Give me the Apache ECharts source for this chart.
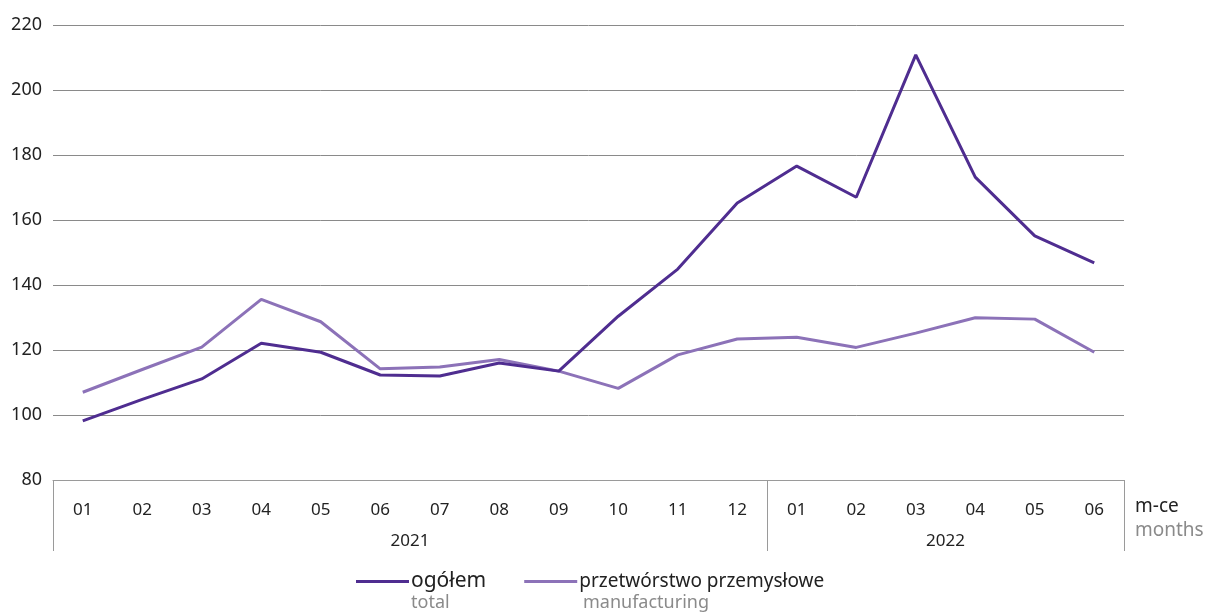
<!DOCTYPE html>
<html>
<head>
<meta charset="utf-8">
<script src="https://cdn.jsdelivr.net/npm/echarts@6/dist/echarts.min.js"></script>
<style>
  html, body { margin: 0; padding: 0; background: #fff; }
  #chart { width: 1206px; height: 614px; }
</style>
</head>
<body>
<div id="chart"></div>
<script>
// miesiące 2021-01 .. 2022-06
const months = ['01', '02', '03', '04', '05', '06', '07', '08', '09', '10', '11', '12',
                '01', '02', '03', '04', '05', '06'];
const years = ['2021', '2022'];
const yearMid = [6, 15];       // środek grupy (w jednostkach kategorii)
const yearBounds = [0, 12, 18]; // granice lat

const totalValues = [98.2, 104.8, 111.1, 122.1, 119.3, 112.3, 112.0, 116.0, 113.5, 130.4,
                     144.9, 165.2, 176.6, 167.0, 210.8, 173.2, 155.1, 146.8];
const manufValues = [107.0, 114.0, 120.9, 135.6, 128.7, 114.2, 114.8, 117.1, 113.5, 108.2,
                     118.5, 123.4, 123.9, 120.8, 125.2, 129.9, 129.5, 119.3];

const font = '"Noto Sans", "Open Sans", sans-serif';
const darkPurple = '#4f2d90';
const lightPurple = '#8c72b8';

const myChart = echarts.init(document.getElementById('chart'));

const option = {
  animation: false,
  textStyle: { fontFamily: font },
  grid: { left: 53, right: 82, top: 25, bottom: 134, containLabel: false },
  legend: {
    left: 351,
    top: 566,
    itemWidth: 53,
    itemHeight: 3,
    itemGap: 38,
    icon: 'rect',
    textStyle: { fontSize: 19, color: '#222', fontFamily: font, padding: [0, 0, 0, -3] },
    data: [
      { name: 'ogółem', textStyle: { fontSize: 21 } },
      { name: 'przetwórstwo przemysłowe' }
    ]
  },
  xAxis: [
    {
      type: 'category',
      data: months,
      boundaryGap: true,
      position: 'bottom',
      axisLine: { show: true, lineStyle: { color: '#9a9a9a', width: 1 } },
      axisTick: { show: false },
      axisLabel: { color: '#222', fontSize: 17, margin: 22, fontFamily: font }
    },
    {
      type: 'value',
      min: 0,
      max: 18,
      position: 'bottom',
      axisLine: { show: false },
      splitLine: { show: false },
      axisTick: {
        show: true,
        customValues: yearBounds,
        length: 71,
        lineStyle: { color: '#9a9a9a', width: 1 }
      },
      axisLabel: {
        customValues: yearMid,
        formatter: v => years[yearMid.indexOf(v)],
        color: '#222',
        fontSize: 17,
        margin: 53,
        fontFamily: font
      }
    }
  ],
  yAxis: {
    type: 'value',
    min: 80,
    max: 220,
    interval: 20,
    axisLine: { show: false },
    axisTick: { show: false },
    axisLabel: { color: '#222', fontSize: 18, margin: 11, fontFamily: font },
    splitLine: { show: true, lineStyle: { color: '#8a8a8a', width: 1 } }
  },
  graphic: [
    { type: 'text', left: 1135, top: 497, style: { text: 'm-ce', fontSize: 19, fill: '#222', fontFamily: font } },
    { type: 'text', left: 1135, top: 521, style: { text: 'months', fontSize: 19, fill: '#8a8a8a', fontFamily: font } },
    { type: 'text', left: 411, top: 594, style: { text: 'total', fontSize: 18, fill: '#8a8a8a', fontFamily: font } },
    { type: 'text', left: 583, top: 594, style: { text: 'manufacturing', fontSize: 18, fill: '#8a8a8a', fontFamily: font } }
  ],
  series: [
    {
      name: 'ogółem',
      type: 'line',
      data: totalValues,
      symbol: 'none',
      itemStyle: { color: darkPurple },
      lineStyle: { color: darkPurple, width: 3 },
      z: 3
    },
    {
      name: 'przetwórstwo przemysłowe',
      type: 'line',
      data: manufValues,
      symbol: 'none',
      itemStyle: { color: lightPurple },
      lineStyle: { color: lightPurple, width: 3 },
      z: 2
    }
  ]
};

myChart.setOption(option);
</script>
</body>
</html>
